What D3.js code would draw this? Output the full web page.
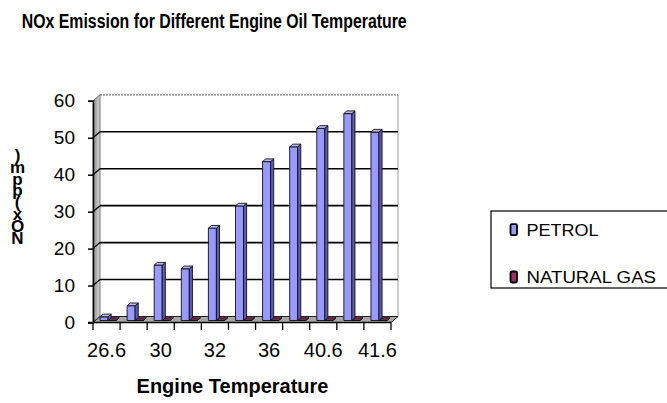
<!DOCTYPE html>
<html>
<head>
<meta charset="utf-8">
<script src="https://cdn.jsdelivr.net/npm/d3@7"></script>
<style>
  html, body { margin: 0; padding: 0; background: #fff; }
  svg { display: block; font-family: "Liberation Sans", Arial, sans-serif; }
</style>
</head>
<body>
<script>
// Engine oil temperature categories (every second one is labelled on the axis)
const categories = ["26.6", "28", "30", "31", "32", "34", "36", "38", "40.6", "41", "41.6"];
const seriesNames = ["PETROL", "NATURAL GAS"];
const petrol = [1, 4, 15, 14, 25, 31, 43, 47, 52, 56, 51];
const naturalGas = [0, 0, 0, 0, 0, 0, 0, 0, 0, 0, 0];
const yTicks = [0, 10, 20, 30, 40, 50, 60];
const titleText = "NOx Emission for Different Engine Oil Temperature";
const xTitle = "Engine Temperature";
const yTitle = "NOx (ppm)";

const W = 667, H = 403;
const colors = { "PETROL": "#9999FF", "NATURAL GAS": "#993366" };
const sideColors = { "PETROL": "#5C5CB8", "NATURAL GAS": "#5E1F3E" };
const topColors = { "PETROL": "#B8B8FF", "NATURAL GAS": "#7A2A52" };

const svg = d3.select("body").append("svg").attr("width", W).attr("height", H);

// oblique depth of the 3D plot box
const DX = 7, DY = -6;
const left = 93, right = 391;

const x0 = d3.scaleBand().domain(categories).range([left, right]).padding(0);
const x1 = d3.scaleBand().domain(seriesNames).range([4.7, 20.7]).padding(0);
const y = d3.scaleLinear().domain([0, 60]).range([322.5, 100.8]);

const pts = arr => arr.map(p => p.join(",")).join(" ");

// gradient for the left side wall
const defs = svg.append("defs");
const grad = defs.append("linearGradient").attr("id", "wallGrad")
  .attr("x1", "0%").attr("x2", "100%").attr("y1", "0%").attr("y2", "0%");
grad.append("stop").attr("offset", "0%").attr("stop-color", "#8a8a8a");
grad.append("stop").attr("offset", "100%").attr("stop-color", "#d8d8d8");

// back wall
svg.append("rect")
  .attr("x", left + DX).attr("y", y(60) + DY)
  .attr("width", right - left).attr("height", y(0) - y(60))
  .attr("fill", "#fff");
svg.append("line")
  .attr("x1", left + DX).attr("x2", right + DX)
  .attr("y1", y(60) + DY).attr("y2", y(60) + DY)
  .attr("stroke", "#777").attr("stroke-width", 1.2).attr("stroke-dasharray", "2,1");
svg.append("line")
  .attr("x1", right + DX).attr("x2", right + DX)
  .attr("y1", y(60) + DY).attr("y2", y(0) + DY)
  .attr("stroke", "#999").attr("stroke-width", 1);

// left side wall
svg.append("polygon")
  .attr("points", pts([[left, y(60)], [left + DX, y(60) + DY], [left + DX, y(0) + DY], [left, y(0)]]))
  .attr("fill", "url(#wallGrad)").attr("stroke", "#555").attr("stroke-width", 0.8);

// floor
svg.append("polygon")
  .attr("points", pts([[left, y(0)], [right, y(0)], [right + DX, y(0) + DY], [left + DX, y(0) + DY]]))
  .attr("fill", "#a8a8a8").attr("stroke", "#222").attr("stroke-width", 1);

// gridlines on back wall and across the side wall
const grid = svg.append("g");
yTicks.filter(v => v > 0 && v < 60).forEach(v => {
  grid.append("line")
    .attr("x1", left + DX).attr("x2", right + DX)
    .attr("y1", y(v) + DY).attr("y2", y(v) + DY)
    .attr("stroke", "#000").attr("stroke-width", 1.6);
  grid.append("line")
    .attr("x1", left).attr("x2", left + DX)
    .attr("y1", y(v)).attr("y2", y(v) + DY)
    .attr("stroke", "#000").attr("stroke-width", 1.3);
});

// 3D bars
const z0 = 0.333, z1 = 0.78;
const barsG = svg.append("g");
function bar3d(cat, name, v) {
  const xl = x0(cat) + x1(name), xr = xl + x1.bandwidth();
  const yt = y(v), yb = y(0);
  const P = (px, py, z) => [px + z * DX, py + z * DY];
  const g = barsG.append("g");
  const sc = "#111", sw = 0.9;
  g.append("polygon")
    .attr("points", pts([P(xl, yt, z0), P(xr, yt, z0), P(xr, yb, z0), P(xl, yb, z0)]))
    .attr("fill", colors[name]).attr("stroke", sc).attr("stroke-width", sw);
  g.append("polygon")
    .attr("points", pts([P(xr, yt, z0), P(xr, yt, z1), P(xr, yb, z1), P(xr, yb, z0)]))
    .attr("fill", sideColors[name]).attr("stroke", sc).attr("stroke-width", sw);
  g.append("polygon")
    .attr("points", pts([P(xl, yt, z0), P(xr, yt, z0), P(xr, yt, z1), P(xl, yt, z1)]))
    .attr("fill", topColors[name]).attr("stroke", sc).attr("stroke-width", sw);
}
categories.forEach((c, i) => {
  bar3d(c, "NATURAL GAS", naturalGas[i]);
  bar3d(c, "PETROL", petrol[i]);
});

// value axis
const yAxis = d3.axisLeft(y).tickValues(yTicks).tickSize(5).tickPadding(13);
const yG = svg.append("g").attr("transform", `translate(${left},0)`).call(yAxis);
yG.select(".domain").attr("stroke", "#000").attr("stroke-width", 1.5);
yG.selectAll(".tick line").attr("stroke", "#000").attr("stroke-width", 1.5);
yG.selectAll(".tick text").attr("font-size", 19).attr("fill", "#000")
  .attr("font-family", "'Liberation Sans', Arial, sans-serif");

// category axis: ticks at band edges, labels on every second category
const edges = categories.map(c => x0(c)).concat([right]);
svg.append("g").selectAll("line").data(edges).join("line")
  .attr("x1", d => d).attr("x2", d => d)
  .attr("y1", y(0)).attr("y2", y(0) + 7.5)
  .attr("stroke", "#000").attr("stroke-width", 1.3);
svg.append("line")
  .attr("x1", left - 5).attr("x2", right).attr("y1", y(0)).attr("y2", y(0))
  .attr("stroke", "#000").attr("stroke-width", 1.6);
const xAxis = d3.axisBottom(x0).tickSize(0).tickPadding(20.4)
  .tickFormat((d, i) => (i % 2 === 0 ? d : ""));
const xG = svg.append("g").attr("transform", `translate(0,${y(0)})`).call(xAxis);
xG.select(".domain").remove();
xG.selectAll(".tick text").attr("font-size", 20).attr("fill", "#000")
  .attr("font-family", "'Liberation Sans', Arial, sans-serif");

// chart title
svg.append("text")
  .attr("x", 21.7).attr("y", 28.3)
  .attr("font-size", 20).attr("font-weight", "bold")
  .attr("textLength", 385).attr("lengthAdjust", "spacingAndGlyphs")
  .text(titleText);

// axis titles
svg.append("text")
  .attr("x", 232.5).attr("y", 393.3).attr("text-anchor", "middle")
  .attr("font-size", 20).attr("font-weight", "bold")
  .text(xTitle);

// value axis title: upright letters stacked vertically, read from the bottom up
const yStacked = yTitle.replace(/\s/g, "").split("").reverse().join("");
svg.append("text")
  .attr("x", 17.5).attr("y", 146)
  .attr("font-size", 17).attr("font-weight", "bold")
  .style("writing-mode", "vertical-rl")
  .style("text-orientation", "upright")
  .style("letter-spacing", "-7.2px")
  .text(yStacked);

// legend
const lg = svg.append("g");
lg.append("rect")
  .attr("x", 491).attr("y", 211).attr("width", 200).attr("height", 77)
  .attr("fill", "#fff").attr("stroke", "#000").attr("stroke-width", 1.2);
const legendY = [235.7, 283];
const legendLen = [72, 129.5];
seriesNames.forEach((name, i) => {
  lg.append("rect")
    .attr("x", 510.5).attr("y", legendY[i] - 11.5).attr("width", 6.5).attr("height", 11)
    .attr("rx", 1.5)
    .attr("fill", colors[name]).attr("stroke", "#000").attr("stroke-width", 1.8);
  lg.append("text")
    .attr("x", 526.5).attr("y", legendY[i])
    .attr("font-size", 16.5)
    .attr("textLength", legendLen[i]).attr("lengthAdjust", "spacingAndGlyphs")
    .text(name);
});
</script>
</body>
</html>
